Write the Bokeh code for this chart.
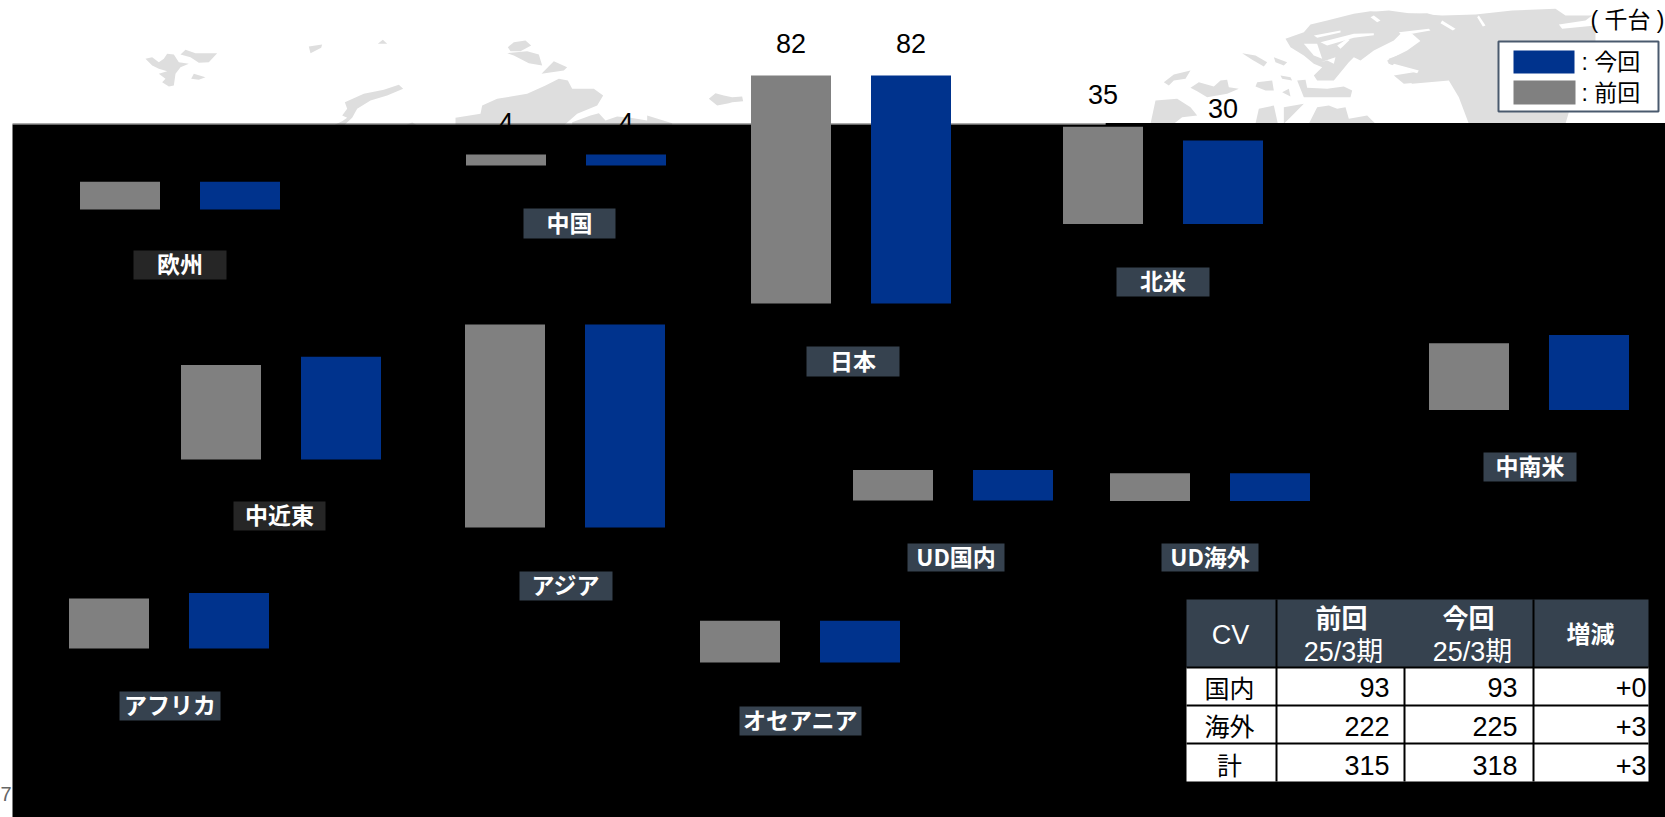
from bokeh.plotting import figure
from bokeh.models import Range1d, ColumnDataSource
from bokeh.core.properties import value
from bokeh.embed import file_html
from bokeh.resources import INLINE

# ---- data (thousand vehicles) ----
regions = ["欧州", "中国", "日本", "北米", "中南米", "中近東", "アジア", "UD国内", "UD海外", "アフリカ", "オセアニア"]
previous = [10, 4, 82, 35, 24, 34, 73, 11, 10, 18, 15]
current = [10, 4, 82, 30, 27, 37, 73, 11, 10, 20, 15]
table_head = ["CV", "前回", "今回", "増減"]
table_period = "25/3期"
table_rows = ["国内", "海外", "計"]
table_prev = [93, 222, 315]
table_curr = [93, 225, 318]
table_diff = ["+0", "+3", "+3"]
unit_label = "( 千台 )"
legend_labels = [": 今回", ": 前回"]

# ---- layout (page pixels) ----
W, H = 1665, 817
PPU = 2.78  # pixels per thousand
bar_left = [79.5, 465.5, 750.5, 1062.5, 1428.5, 180.5, 464.5, 852.5, 1109.5, 68.5, 699.5]
bar_base = [209, 165, 303, 223.5, 409.5, 459, 527, 500, 500.5, 648, 662]
BW, OFF = 80, 120
tag_box = [(133, 226, 250, 279), (523, 615, 208, 238), (806, 899, 346, 376), (1116, 1209, 267, 296),
           (1483, 1576, 452, 481), (233, 325, 501, 530), (519, 612, 571, 600), (907, 1004, 543, 571),
           (1161, 1258, 543, 571), (119, 220, 691, 720), (739, 861, 706, 735)]
tag_fill = ["#262626", "#36424f", "#36424f", "#36424f", "#36424f", "#262626", "#36424f", "#36424f", "#36424f", "#36424f", "#36424f"]
GREY, BLUE, SLATE, MAP = "#808080", "#00338d", "#36424f", "#dedede"
SANS = "Liberation Sans, Noto Sans CJK JP"
CJK = "Noto Sans CJK JP"


def Y(py):
    return (H - py) / PPU


p = figure(width=W, height=H, x_range=Range1d(0, W), y_range=Range1d(0, H / PPU),
           output_backend="svg", toolbar_location=None, x_axis_location=None, y_axis_location=None,
           min_border=0, outline_line_color=None, background_fill_color="white", border_fill_color="white")
p.grid.visible = False
p.styles = {"position": "absolute", "left": "0", "top": "0"}


def z(ox, oy, pts):
    return [ox + a / 3 for a, _ in pts], [Y(oy + b / 3) for _, b in pts]


# ---- decorative background map ----
shapes = [
    (130, 30, [(45,85),(65,80),(85,95),(100,85),(110,70),(130,72),(145,95),(175,100),(150,110),(135,130),(130,165),(115,168),(95,155),(105,145),(85,130),(110,122),(85,115),(65,105)]),
    (130, 30, [(150,72),(165,58),(195,68),(260,68),(235,95),(205,97),(180,80)]),
    (130, 30, [(182,145),(190,130),(225,140),(205,148)]),
    (130, 30, [(535,48),(575,42),(572,52),(540,68)]),
    (130, 30, [(742,40),(757,28),(770,40)]),
    (130, 30, [(610,284),(635,272),(650,262),(635,255),(650,235),(643,215),(700,190),(760,178),(805,163),(818,175),(770,195),(720,210),(680,235),(665,262),(640,285)]),
    (130, 30, [(825,284),(845,276),(860,284)]),
    (430, 30, [(232,50),(250,35),(285,30),(302,45),(270,62),(240,62)]),
    (430, 30, [(230,68),(290,62),(325,72),(335,105),(295,98),(250,75)]),
    (430, 30, [(333,130),(370,92),(410,110),(400,120)]),
    (430, 30, [(75,262),(150,250),(155,225),(200,205),(290,190),(345,165),(385,145),(412,150),(425,175),(490,175),(518,195),(500,225),(440,250),(400,285),(75,285)]),
    (430, 30, [(425,275),(480,255),(505,248),(525,270),(560,258),(600,262),(650,270),(650,255),(725,278),(725,285),(425,285)]),
    (430, 30, [(835,205),(855,188),(880,195),(905,200),(935,198),(938,212),(905,215),(895,218),(860,225)]),
    (1140, 0, [(435,115),(490,95),(510,72),(560,60),(640,40),(690,32),(760,40),(860,38),(900,50),(900,240),(790,250),(760,225),(820,215),(745,190),(740,180),(800,150),(870,100),(830,80),(790,90),(760,120),(700,150),(660,180),(640,170),(625,185),(580,240),(530,240),(520,225),(545,200),(520,190),(490,165),(450,140)]),
    (1365, 0, [(0,35),(70,30),(130,38),(230,45),(330,42),(440,30),(570,25),(600,45),(680,45),(660,60),(580,72),(590,85),(690,75),(690,125),(398,125),(398,330),(610,335),(600,370),(310,370),(280,290),(250,240),(140,250),(120,235),(155,215),(70,190),(70,175),(180,135),(140,100),(0,100)]),
    (1140, 0, [(305,158),(345,165),(380,185),(370,198),(335,178)]),
    (1140, 0, [(400,170),(440,185),(430,195),(405,185)]),
    (1140, 0, [(420,225),(450,230),(455,240),(425,235)]),
    (1140, 0, [(470,240),(495,238),(500,262),(560,265),(610,258),(635,270),(630,290),(490,290)]),
    (1140, 0, [(350,245),(395,240),(400,270),(375,270),(345,258)]),
    (1140, 0, [(425,275),(445,265),(450,288)]),
    (1140, 0, [(70,245),(100,222),(150,210),(135,235),(100,240),(85,255)]),
    (1140, 0, [(150,262),(175,245),(220,258),(240,240),(260,238),(265,260),(295,265),(260,280),(200,290),(170,272)]),
    (1140, 0, [(30,370),(45,300),(110,295),(150,320),(170,345),(125,350),(100,370)]),
    (1140, 0, [(355,325),(400,315),(412,370),(345,370)]),
    (1140, 0, [(430,320),(490,310),(450,350),(430,370)]),
    (1140, 0, [(505,370),(530,320),(565,315),(590,325),(615,320),(625,355),(680,345),(705,370)]),
]
for ox, oy, pts in shapes:
    xs, ys = z(ox, oy, pts)
    p.patch(xs, ys, fill_color=MAP, line_color=None)

# white inlets cut into the map
inlets = [
    (1140, 0, [(520,105),(600,90),(600,96),(530,112)]),
    (1140, 0, [(540,125),(640,100),(700,98),(700,104),(640,112),(560,135)]),
    (1140, 0, [(590,135),(620,115),(628,118),(600,145)]),
    (1140, 0, [(700,45),(720,60),(710,65),(690,50)]),
    (1140, 0, [(490,130),(530,130),(545,175),(520,165)]),
    (1140, 0, [(540,185),(585,170),(580,190),(560,180)]),
    (1365, 0, [(230,60),(270,85),(262,90),(225,68)]),
    (1365, 0, [(100,95),(190,85),(195,90),(110,105)]),
    (1365, 0, [(340,45),(360,75),(352,78),(335,50)]),
    (1365, 0, [(85,190),(160,210),(155,218),(80,198)]),
]
for ox, oy, pts in inlets:
    xs, ys = z(ox, oy, pts)
    p.patch(xs, ys, fill_color="white", line_color=None)

# ---- black panel covering the lower part of the slide ----
p.quad(left=[12], right=[W], top=[Y(124)], bottom=[0], fill_color="black", line_color=None)
p.quad(left=[1105], right=[W], top=[Y(122.5)], bottom=[Y(125)], fill_color="black", line_color=None)
p.segment(x0=[12], x1=[1105], y0=[Y(123.5)], y1=[Y(123.5)], line_color="#555555", line_width=1)

# ---- bars ----
base = [Y(b) for b in bar_base]
src = ColumnDataSource(dict(
    xp=[l + BW / 2 for l in bar_left], xc=[l + OFF + BW / 2 for l in bar_left], base=base,
    tp=[b + v for b, v in zip(base, previous)], tc=[b + v for b, v in zip(base, current)],
    lp=[str(v) for v in previous], lc=[str(v) for v in current],
    yp=[b + v + 32 / PPU for b, v in zip(base, previous)], yc=[b + v + 32 / PPU for b, v in zip(base, current)],
))
p.vbar(x="xp", width=BW, bottom="base", top="tp", source=src, fill_color=GREY, line_color=None)
p.vbar(x="xc", width=BW, bottom="base", top="tc", source=src, fill_color=BLUE, line_color=None)
for xk, yk, tk in (("xp", "yp", "lp"), ("xc", "yc", "lc")):
    p.text(x=xk, y=yk, text=tk, source=src, text_font=value(SANS), text_font_size="27px", text_color="black",
           text_align="center", text_baseline="middle")

# ---- region tags ----
p.quad(left=[b[0] for b in tag_box], right=[b[1] for b in tag_box], top=[Y(b[2]) for b in tag_box],
       bottom=[Y(b[3]) for b in tag_box], fill_color=tag_fill, line_color=None)
p.text(x=[(b[0] + b[1]) / 2 for b in tag_box], y=[Y((b[2] + b[3]) / 2 - 2) for b in tag_box], text=regions,
       text_font=value(CJK), text_font_style="bold", text_font_size="23px", text_color="white",
       text_align="center", text_baseline="middle")

# ---- table ----
tx = [1186, 1276, 1404, 1533, 1648]
ty = [599, 667, 705, 743, 781]
p.quad(left=[tx[0]], right=[tx[-1]], top=[Y(ty[0])], bottom=[Y(ty[1])], fill_color=SLATE, line_color=None)
p.quad(left=[tx[0]], right=[tx[-1]], top=[Y(ty[1])], bottom=[Y(ty[-1])], fill_color="white", line_color=None)
for yy in ty[1:-1]:
    p.segment(x0=[tx[0]], x1=[tx[-1]], y0=[Y(yy)], y1=[Y(yy)], line_color="black", line_width=2)
for i, xx in enumerate(tx[1:-1]):
    top = ty[1] if i == 1 else ty[0]
    p.segment(x0=[xx], x1=[xx], y0=[Y(top)], y1=[Y(ty[-1])], line_color="black", line_width=2)


def t(x, py, s, size="26px", color="black", font=SANS, style="normal", align="center"):
    p.text(x=[x], y=[Y(py)], text=[s], text_font=value(font), text_font_size=size, text_color=color,
           text_font_style=style, text_align=align, text_baseline="middle")


t(1230, 634, table_head[0], size="27px", color="white")
t(1341, 616, table_head[1], size="26px", color="white", font=CJK, style="bold")
t(1343, 651, table_period, size="27px", color="white")
t(1468, 616, table_head[2], size="26px", color="white", font=CJK, style="bold")
t(1472, 651, table_period, size="27px", color="white")
t(1590, 632, table_head[3], size="24px", color="white", font=CJK, style="bold")
row_y = [686, 724.5, 763.5]
for i, yy in enumerate(row_y):
    t(1229, yy, table_rows[i], size="25px", font=CJK)
    t(1389, yy + 1, str(table_prev[i]), size="27px", align="right")
    t(1517, yy + 1, str(table_curr[i]), size="27px", align="right")
    t(1646, yy + 1, table_diff[i], size="27px", align="right")

# ---- legend and unit ----
p.quad(left=[1498], right=[1658], top=[Y(41)], bottom=[Y(111)], fill_color="white", line_color="#4a5a6e", line_width=2)
p.quad(left=[1513], right=[1574], top=[Y(50)], bottom=[Y(73)], fill_color=BLUE, line_color=None)
p.quad(left=[1513], right=[1575], top=[Y(80)], bottom=[Y(104)], fill_color=GREY, line_color=None)
t(1581, 61, legend_labels[0], size="23px", align="left")
t(1581, 92, legend_labels[1], size="23px", align="left")
t(1664, 19, unit_label, size="23px", align="right")
t(0, 793, "7", size="20px", color="#666666", align="left")

open("out.html", "w").write(file_html(p, INLINE))
